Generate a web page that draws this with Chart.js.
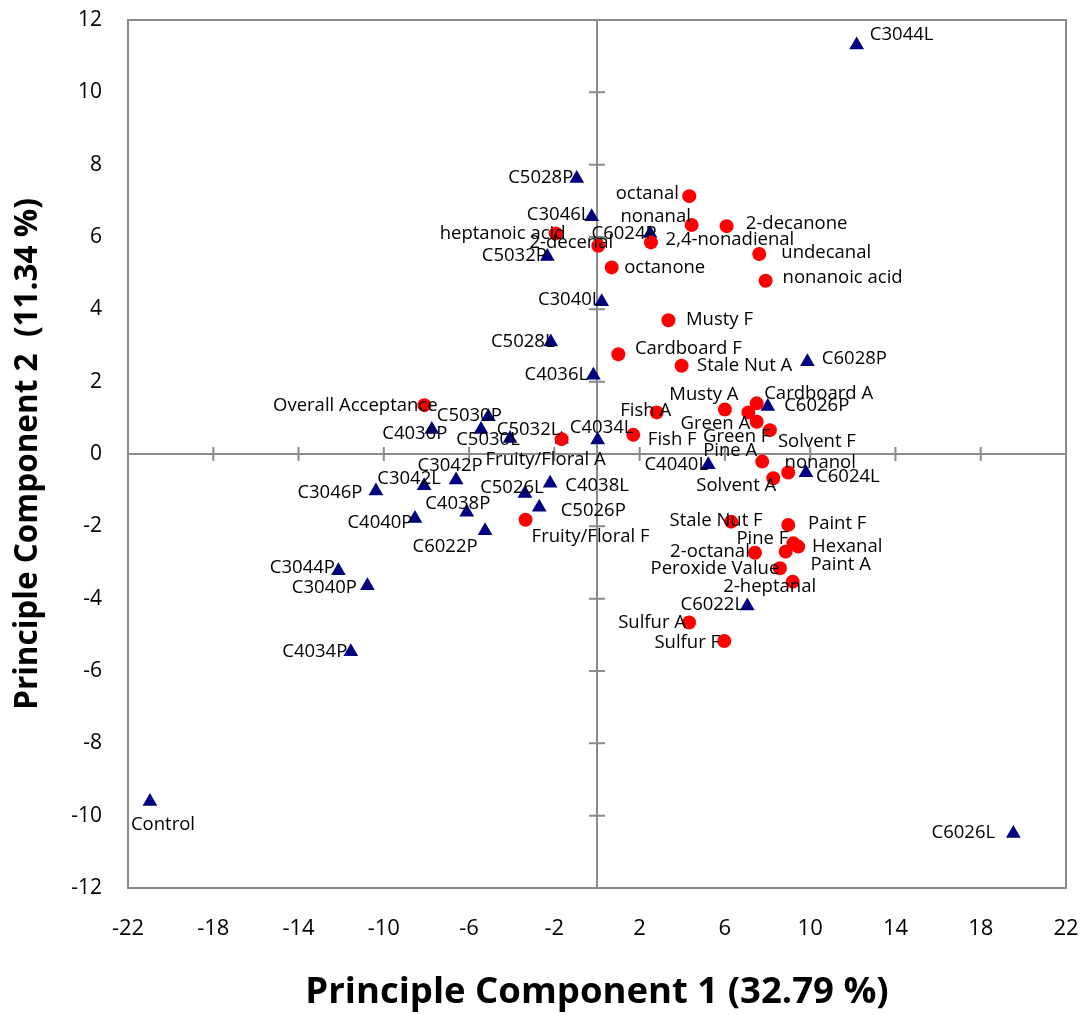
<!DOCTYPE html>
<html>
<head>
<meta charset="utf-8">
<script src="https://cdn.jsdelivr.net/npm/chart.js@4.4.1/dist/chart.umd.min.js"></script>
<style>
  html, body { margin: 0; padding: 0; background: #fff; }
  #wrap { width: 1085px; height: 1015px; position: relative; }
</style>
</head>
<body>
<div id="wrap"><canvas id="pca"></canvas></div>
<script>
// Samples (triangles)
const sampleNames = ['C3044L', 'C5028P', 'C3046L', 'C6024P', 'C5032P', 'C3040L', 'C5028L', 'C4036L',
    'C6028P', 'C5030P', 'C4036P', '', 'C5030L', 'C5032L', 'C4034L', 'C6026P', 'C4040L', 'C6024L',
    'C3042P', 'C3042L', 'C3046P', 'C5026L', 'C4038L', 'C4040P', 'C4038P', 'C5026P', 'C6022P',
    'C3044P', 'C3040P', 'C4034P', 'C6022L', 'Control', 'C6026L'];
const sampleX = [12.18, -0.95, -0.25, 2.49, -2.33, 0.22, -2.17, -0.17,
    9.87, -5.10, -7.75, -5.44, -4.08, -1.66, 0.03, 8.01, 5.22, 9.80,
    -6.61, -8.11, -10.37, -3.38, -2.20, -8.54, -6.11, -2.71, -5.25,
    -12.13, -10.77, -11.55, 7.05, -20.97, 19.53];
const sampleY = [11.31, 7.62, 6.56, 6.10, 5.46, 4.21, 3.10, 2.18,
    2.55, 1.03, 0.68, 0.68, 0.43, 0.41, 0.39, 1.31, -0.30, -0.52,
    -0.72, -0.88, -1.02, -1.09, -0.81, -1.78, -1.61, -1.47, -2.12,
    -3.23, -3.64, -5.47, -4.20, -9.61, -10.49];

// Attributes (circles)
const attrNames = ['octanal', 'nonanal', '2-decanone', '2,4-nonadienal', 'undecanal', 'nonanoic acid',
    'octanone', 'Musty F', 'Cardboard F', 'Stale Nut A', 'Musty A', 'Fish A', 'Cardboard A', 'Green A',
    'Green F', 'Solvent F', 'Fish F', 'Pine A', 'nonanol', 'Solvent A', 'Stale Nut F', 'Paint F',
    'Pine F', 'Hexanal', 'Paint A', '2-octanal', 'Peroxide Value', '2-heptanal', 'Sulfur A', 'Sulfur F',
    'heptanoic acid', '2-decenal', 'Overall Acceptance', 'Fruity/Floral A', 'Fruity/Floral F'];
const attrX = [4.33, 4.44, 6.08, 2.53, 7.61, 7.91,
    0.69, 3.35, 1.00, 3.97, 6.00, 2.80, 7.49, 7.10,
    7.49, 8.11, 1.70, 7.75, 8.97, 8.27, 6.29, 8.97,
    9.21, 9.44, 8.85, 7.41, 8.58, 9.18, 4.32, 5.97,
    -1.94, 0.06, -8.10, -1.66, -3.35];
const attrY = [7.13, 6.33, 6.30, 5.85, 5.53, 4.79,
    5.16, 3.70, 2.76, 2.44, 1.23, 1.15, 1.40, 1.15,
    0.89, 0.66, 0.53, -0.21, -0.51, -0.67, -1.87, -1.96,
    -2.47, -2.56, -2.70, -2.73, -3.16, -3.53, -4.66, -5.17,
    6.10, 5.76, 1.35, 0.41, -1.82];

const xTicks = [-22, -18, -14, -10, -6, -2, 2, 6, 10, 14, 18, 22];
const yTicks = [-12, -10, -8, -6, -4, -2, 0, 2, 4, 6, 8, 10, 12];

// label placement (text centre relative to the marker, px)
const sampleLabelOffsets = [[45, -10], [-36, -1], [-33, -2], [-26, 0], [-33, -1], [-32, -2], [-28, 0], [-37, 0],
    [47, -3], [-19, -1], [-17, 4], [0, 0], [-22, 1], [-33, -9], [4, -12], [49, -1], [-32, 0], [42, 4],
    [-6, -14], [-15, -7], [-46, 2], [-13, -6], [47, 2], [-35, 4], [-9, -8], [54, 4], [-40, 16],
    [-36, -3], [-43, 2], [-36, 0], [-35, -1], [13, 23], [-50, -1]];
const attrLabelOffsets = [[-42, -2], [-36, -8], [70, -2], [79, -3], [67, -1], [77, -3],
    [53, 0], [51, 0], [70, -5], [63, 0], [-21, -15], [-11, -2], [62, -10], [-33, 11],
    [-20, 15], [47, 12], [39, 5], [-32, -11], [32, -10], [-37, 8], [-15, -1], [49, -1],
    [-31, -5], [49, 0], [55, 13], [-45, -1], [-65, 0], [-23, 5], [-37, 0], [-37, 2],
    [-53, 0], [-27, -3], [-69, 1], [-16, 21], [65, 17]];

const FONT = "'Open Sans', 'Noto Sans', sans-serif";
const FRAME = '#8a8a8a';

const toPoints = (xs, ys) => xs.map((x, i) => ({ x, y: ys[i] }));

// frame, zero lines and the tick marks that sit on them
const framePlugin = {
    id: 'frame',
    beforeDatasetsDraw(chart) {
        const { ctx, chartArea: a, scales: { x, y } } = chart;
        const x0 = x.getPixelForValue(0);
        const y0 = y.getPixelForValue(0);
        ctx.save();
        ctx.strokeStyle = FRAME;
        ctx.lineWidth = 2;
        ctx.strokeRect(a.left, a.top, a.right - a.left, a.bottom - a.top);
        ctx.beginPath();
        ctx.moveTo(a.left, y0);
        ctx.lineTo(a.right, y0);
        ctx.moveTo(x0, a.top);
        ctx.lineTo(x0, a.bottom);
        x.ticks.forEach(t => {
            const px = x.getPixelForValue(t.value);
            ctx.moveTo(px, y0 - 7);
            ctx.lineTo(px, y0 + 7);
        });
        y.ticks.forEach(t => {
            const py = y.getPixelForValue(t.value);
            ctx.moveTo(x0 - 8, py);
            ctx.lineTo(x0 + 8, py);
        });
        ctx.stroke();
        ctx.restore();
    }
};

// data labels
const labelPlugin = {
    id: 'pointLabels',
    afterDatasetsDraw(chart) {
        const { ctx } = chart;
        ctx.save();
        ctx.font = `18.5px ${FONT}`;
        ctx.fillStyle = '#000';
        ctx.textAlign = 'center';
        ctx.textBaseline = 'middle';
        chart.data.datasets.forEach((ds, di) => {
            chart.getDatasetMeta(di).data.forEach((pt, i) => {
                const text = ds.names[i];
                if (!text) return;
                const [dx, dy] = ds.labelOffsets[i];
                ctx.fillText(text, pt.x + dx, pt.y + dy);
            });
        });
        ctx.restore();
    }
};

new Chart(document.getElementById('pca'), {
    type: 'scatter',
    data: {
        datasets: [
            {
                label: 'Samples',
                data: toPoints(sampleX, sampleY),
                names: sampleNames,
                labelOffsets: sampleLabelOffsets,
                pointStyle: 'triangle',
                pointRadius: 8.5,
                pointBackgroundColor: '#000080',
                pointBorderWidth: 0,
                order: 1
            },
            {
                label: 'Attributes',
                data: toPoints(attrX, attrY),
                names: attrNames,
                labelOffsets: attrLabelOffsets,
                pointStyle: 'circle',
                pointRadius: 7,
                pointBackgroundColor: '#ff0000',
                pointBorderWidth: 0,
                order: 0
            }
        ]
    },
    options: {
        responsive: true,
        maintainAspectRatio: false,
        animation: false,
        layout: { autoPadding: false, padding: { left: 0, top: 20, right: 19, bottom: 0 } },
        plugins: {
            legend: { display: false },
            tooltip: { enabled: false }
        },
        scales: {
            x: {
                type: 'linear',
                min: -22,
                max: 22,
                afterBuildTicks: s => { s.ticks = xTicks.map(v => ({ value: v })); },
                afterFit: s => { s.height = 127; s.paddingLeft = 0; s.paddingRight = 0; },
                grid: { display: false, drawTicks: false },
                border: { display: false },
                ticks: { padding: 28, color: '#000', font: { family: FONT, size: 22 } },
                title: {
                    display: true,
                    text: 'Principle Component 1 (32.79 %)',
                    color: '#000',
                    font: { family: FONT, size: 36.5, weight: 'bold' },
                    padding: { top: 0, bottom: 0 }
                }
            },
            y: {
                type: 'linear',
                min: -12,
                max: 12,
                afterBuildTicks: s => { s.ticks = yTicks.map(v => ({ value: v })); },
                afterFit: s => { s.width = 128; s.paddingTop = 0; s.paddingBottom = 0; },
                grid: { display: false, drawTicks: false },
                border: { display: false },
                ticks: { padding: 26, color: '#000', font: { family: FONT, size: 21 } },
                title: {
                    display: true,
                    text: 'Principle Component 2  (11.34 %)',
                    color: '#000',
                    font: { family: FONT, size: 31.5, weight: 'bold' },
                    padding: { top: 9, bottom: 0 }
                }
            }
        }
    },
    plugins: [framePlugin, labelPlugin]
});
</script>
</body>
</html>
